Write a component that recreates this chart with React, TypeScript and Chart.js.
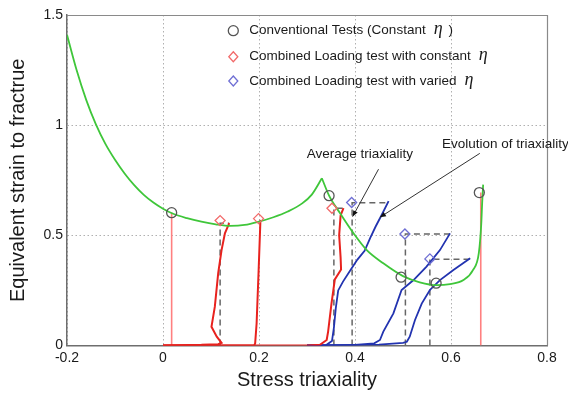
import React, { useEffect, useRef } from "react";
import { Chart, registerables } from "chart.js";

Chart.register(...registerables);

type P = [number, number];

const xTicks = [-0.2, 0, 0.2, 0.4, 0.6, 0.8];
const yTicks = [0, 0.5, 1, 1.5];

const xTitle = "Stress triaxiality";
const yTitle = "Equivalent strain to fractrue";

const legendTexts = [
  "Conventional Tests (Constant",
  "Combined Loading test with constant",
  "Combined Loading test with varied",
];

// fracture locus (green), split at the cusp
const greenLeft: P[] = [
  [-0.2, 1.41], [-0.18, 1.25], [-0.16, 1.115], [-0.14, 1.005], [-0.12, 0.915],
  [-0.1, 0.843], [-0.08, 0.781], [-0.06, 0.728], [-0.04, 0.684], [-0.02, 0.649],
  [0.0, 0.621], [0.02, 0.599], [0.05, 0.578], [0.08, 0.562], [0.11, 0.55],
  [0.14, 0.543], [0.17, 0.547], [0.2, 0.562], [0.23, 0.582], [0.26, 0.608],
  [0.29, 0.645], [0.31, 0.685], [0.331, 0.759],
];
const greenRight: P[] = [
  [0.331, 0.759], [0.346, 0.68], [0.369, 0.6], [0.397, 0.509], [0.424, 0.434],
  [0.459, 0.373], [0.5, 0.315], [0.535, 0.287], [0.57, 0.274], [0.598, 0.279],
  [0.626, 0.297], [0.646, 0.343], [0.658, 0.42], [0.663, 0.55], [0.665, 0.65],
  [0.667, 0.73],
];

// conventional tests: constant triaxiality paths
const convPath1: P[] = [[0.018, 0], [0.018, 0.603]];
const convPath2: P[] = [[0.662, 0], [0.662, 0.694]];

// combined loading, constant triaxiality (red)
const redPath1: P[] = [
  [0.0, 0.0], [0.08, 0.003], [0.115, 0.006], [0.122, 0.012], [0.112, 0.04],
  [0.101, 0.085], [0.108, 0.176], [0.115, 0.328], [0.122, 0.433], [0.129, 0.509],
  [0.138, 0.555],
];
const redPath2: P[] = [
  [0.0, 0.0], [0.19, 0.0], [0.192, 0.01], [0.195, 0.1], [0.199, 0.328], [0.203, 0.57],
];
const redPath3: P[] = [
  [0.0, 0.0], [0.3, 0.0], [0.327, 0.003], [0.341, 0.025], [0.344, 0.063], [0.351, 0.19],
  [0.358, 0.3], [0.371, 0.345], [0.37, 0.4], [0.367, 0.5], [0.37, 0.59], [0.376, 0.623],
];

// combined loading, varied triaxiality (blue)
const bluePath1: P[] = [
  [0.3, 0.0], [0.34, 0.002], [0.352, 0.02], [0.356, 0.08], [0.36, 0.17], [0.365, 0.25],
  [0.375, 0.29], [0.39, 0.34], [0.405, 0.39], [0.42, 0.43], [0.432, 0.49], [0.443, 0.54],
  [0.455, 0.59], [0.47, 0.655],
];
const bluePath2: P[] = [
  [0.3, 0.0], [0.4, 0.003], [0.44, 0.01], [0.452, 0.025], [0.459, 0.063], [0.48, 0.146],
  [0.497, 0.252], [0.522, 0.297], [0.549, 0.358], [0.577, 0.433], [0.598, 0.509],
];
const bluePath3: P[] = [
  [0.3, 0.0], [0.45, 0.004], [0.5, 0.012], [0.508, 0.017], [0.514, 0.04], [0.525, 0.116],
  [0.539, 0.19], [0.556, 0.252], [0.577, 0.297], [0.605, 0.343], [0.64, 0.396],
];

// average triaxiality guides (dashed)
const avg1: P[] = [[0.119, 0], [0.119, 0.555], [0.138, 0.555]];
const avg3: P[] = [[0.356, 0], [0.356, 0.623], [0.376, 0.623]];
const avg4: P[] = [[0.394, 0], [0.394, 0.648], [0.47, 0.648]];
const avg5: P[] = [[0.505, 0], [0.505, 0.506], [0.598, 0.506]];
const avg6: P[] = [[0.556, 0], [0.556, 0.392], [0.64, 0.392]];

// markers
const convPoints: P[] = [[0.018, 0.603], [0.346, 0.68], [0.496, 0.31], [0.569, 0.283], [0.659, 0.694]];
const redDiamonds: P[] = [[0.119, 0.567], [0.199, 0.576], [0.352, 0.623]];
const blueDiamonds: P[] = [[0.393, 0.649], [0.504, 0.506], [0.556, 0.393]];

// annotations: [textX, textY] and arrow [fromX, fromY, toX, toY] in data units
const avgLabel = "Average triaxiality";
const avgLabelPos: P = [0.41, 0.869];
const avgArrow = [0.449, 0.8, 0.395, 0.585];
const evoLabel = "Evolution of triaxiality";
const evoLabelPos: P = [0.581, 0.915];
const evoArrow = [0.66, 0.872, 0.452, 0.582];

const GREEN = "#3fc63a";
const RED = "#e8221e";
const LIGHTRED = "#ff8080";
const BLUE = "#2233b0";
const DASH = "#666666";
const CIRCLE = "#555555";
const RED_D = "#f26a6a";
const BLUE_D = "#6f6fd4";
const TEXT = "#1a1a1a";
const SANS = "'Liberation Sans', Arial, sans-serif";

const toXY = (pts: P[]) => pts.map(([x, y]) => ({ x, y }));

function lineDs(pts: P[], color: string, width: number, dash: number[] = [], smooth = false) {
  return {
    data: toXY(pts),
    showLine: true,
    borderColor: color,
    backgroundColor: color,
    borderWidth: width,
    borderDash: dash,
    pointRadius: 0,
    pointHoverRadius: 0,
    fill: false,
    tension: smooth ? 0.4 : 0,
    cubicInterpolationMode: smooth ? "monotone" : "default",
  };
}

function markerDs(pts: P[], style: string, color: string, r: number) {
  return {
    data: toXY(pts),
    showLine: false,
    pointStyle: style,
    pointRadius: r,
    pointBorderColor: color,
    pointBackgroundColor: "rgba(0,0,0,0)",
    pointBorderWidth: 1.3,
    borderColor: color,
    backgroundColor: "rgba(0,0,0,0)",
  };
}

function drawMarker(ctx: CanvasRenderingContext2D, kind: string, x: number, y: number, color: string) {
  ctx.save();
  ctx.strokeStyle = color;
  ctx.lineWidth = 1.3;
  ctx.beginPath();
  if (kind === "circle") {
    ctx.arc(x, y, 5, 0, Math.PI * 2);
  } else {
    ctx.moveTo(x, y - 5);
    ctx.lineTo(x + 4.5, y);
    ctx.lineTo(x, y + 5);
    ctx.lineTo(x - 4.5, y);
    ctx.closePath();
  }
  ctx.stroke();
  ctx.restore();
}

const decorPlugin = {
  id: "decor",
  beforeDraw(chart: any) {
    const ctx = chart.ctx;
    ctx.save();
    ctx.fillStyle = "#ffffff";
    ctx.fillRect(0, 0, chart.width, chart.height);
    ctx.restore();
  },
  afterDraw(chart: any) {
    const ctx: CanvasRenderingContext2D = chart.ctx;
    const { left, right, top, bottom } = chart.chartArea;
    const xs = chart.scales.x;
    const ys = chart.scales.y;
    ctx.save();
    // box top/right
    ctx.strokeStyle = "#8a8a8a";
    ctx.lineWidth = 1.2;
    ctx.beginPath();
    ctx.moveTo(left, top + 0.5);
    ctx.lineTo(right + 0.5, top + 0.5);
    ctx.lineTo(right + 0.5, bottom);
    ctx.stroke();

    // axis titles
    ctx.fillStyle = TEXT;
    ctx.font = `20px ${SANS}`;
    ctx.textAlign = "center";
    ctx.textBaseline = "middle";
    ctx.fillText(xTitle, (left + right) / 2, 380);
    ctx.save();
    ctx.translate(18, (top + bottom) / 2);
    ctx.rotate(-Math.PI / 2);
    ctx.fillText(yTitle, 0, 0);
    ctx.restore();

    // legend
    const kinds = ["circle", "diamond", "diamond"];
    const colors = [CIRCLE, RED_D, BLUE_D];
    const rowY = [30.7, 56.7, 81];
    const mx = 233.3;
    const tx = 249.3;
    legendTexts.forEach((t, i) => {
      const y = rowY[i];
      drawMarker(ctx, kinds[i], mx, y, colors[i]);
      ctx.font = `13.5px ${SANS}`;
      ctx.fillStyle = TEXT;
      ctx.textAlign = "left";
      ctx.textBaseline = "middle";
      ctx.fillText(t, tx, y);
      const w = ctx.measureText(t).width;
      ctx.font = "italic 18px 'Liberation Serif', 'DejaVu Serif', serif";
      const ex = tx + w + 8;
      ctx.fillText("\u03B7", ex, y - 1);
      if (i === 0) {
        const we = ctx.measureText("\u03B7").width;
        ctx.font = `13.5px ${SANS}`;
        ctx.fillText(")", ex + we + 6, y);
      }
    });

    // annotations
    const arrow = (a: number[]) => {
      const x1 = xs.getPixelForValue(a[0]);
      const y1 = ys.getPixelForValue(a[1]);
      const x2 = xs.getPixelForValue(a[2]);
      const y2 = ys.getPixelForValue(a[3]);
      ctx.strokeStyle = "#333333";
      ctx.fillStyle = "#111111";
      ctx.lineWidth = 1;
      ctx.beginPath();
      ctx.moveTo(x1, y1);
      ctx.lineTo(x2, y2);
      ctx.stroke();
      const ang = Math.atan2(y2 - y1, x2 - x1);
      const L = 6;
      const H = 2.5;
      ctx.beginPath();
      ctx.moveTo(x2, y2);
      ctx.lineTo(x2 - L * Math.cos(ang) + H * Math.sin(ang), y2 - L * Math.sin(ang) - H * Math.cos(ang));
      ctx.lineTo(x2 - L * Math.cos(ang) - H * Math.sin(ang), y2 - L * Math.sin(ang) + H * Math.cos(ang));
      ctx.closePath();
      ctx.fill();
    };
    arrow(avgArrow);
    arrow(evoArrow);
    ctx.font = `13.5px ${SANS}`;
    ctx.fillStyle = TEXT;
    ctx.textBaseline = "middle";
    ctx.textAlign = "center";
    ctx.fillText(avgLabel, xs.getPixelForValue(avgLabelPos[0]), ys.getPixelForValue(avgLabelPos[1]));
    ctx.textAlign = "left";
    ctx.fillText(evoLabel, xs.getPixelForValue(evoLabelPos[0]), ys.getPixelForValue(evoLabelPos[1]));
    ctx.restore();
  },
};

const fmt = (v: number) => String(Math.round(v * 10) / 10);

export default function App() {
  const ref = useRef<HTMLCanvasElement | null>(null);
  useEffect(() => {
    if (!ref.current) return;
    const datasets: any[] = [
      markerDs(convPoints, "circle", CIRCLE, 5),
      markerDs(redDiamonds, "rectRot", RED_D, 5),
      markerDs(blueDiamonds, "rectRot", BLUE_D, 5),
      lineDs(greenLeft, GREEN, 1.8, [], true),
      lineDs(greenRight, GREEN, 1.8, [], true),
      lineDs(redPath1, RED, 2),
      lineDs(redPath2, RED, 2),
      lineDs(redPath3, RED, 2),
      lineDs(bluePath1, BLUE, 1.8),
      lineDs(bluePath2, BLUE, 1.8),
      lineDs(bluePath3, BLUE, 1.8),
      lineDs(avg1, DASH, 1.5, [6, 4]),
      lineDs(avg3, DASH, 1.5, [6, 4]),
      lineDs(avg4, DASH, 1.5, [6, 4]),
      lineDs(avg5, DASH, 1.5, [6, 4]),
      lineDs(avg6, DASH, 1.5, [6, 4]),
      lineDs(convPath1, LIGHTRED, 1.6),
      lineDs(convPath2, LIGHTRED, 1.6),
    ];
    const chart = new Chart(ref.current, {
      type: "scatter",
      data: { datasets },
      plugins: [decorPlugin],
      options: {
        animation: false,
        responsive: false,
        events: [],
        layout: { padding: { left: 0, top: 15, right: 21, bottom: 0 } },
        plugins: { legend: { display: false }, tooltip: { enabled: false } },
        scales: {
          x: {
            type: "linear",
            min: -0.2,
            max: 0.8,
            afterBuildTicks: (s: any) => {
              s.ticks = xTicks.map((v) => ({ value: v }));
            },
            afterFit: (s: any) => {
              s.height = 48.5;
            },
            ticks: {
              callback: (v: any) => fmt(Number(v)),
              font: { family: SANS, size: 14 },
              color: TEXT,
              padding: 4,
              maxRotation: 0,
            },
            grid: { color: "#b0b0b0", lineWidth: 1, drawTicks: false },
            border: { display: true, color: "#6e6e6e", width: 1.5, dash: [1.5, 2.5] },
          },
          y: {
            type: "linear",
            min: 0,
            max: 1.5,
            afterBuildTicks: (s: any) => {
              s.ticks = yTicks.map((v) => ({ value: v }));
            },
            afterFit: (s: any) => {
              s.width = 67;
            },
            ticks: {
              callback: (v: any) => fmt(Number(v)),
              font: { family: SANS, size: 14 },
              color: TEXT,
              padding: 4,
            },
            grid: { color: "#b0b0b0", lineWidth: 1, drawTicks: false },
            border: { display: true, color: "#6e6e6e", width: 1.5, dash: [1.5, 2.5] },
          },
        },
      } as any,
    });
    return () => chart.destroy();
  }, []);
  return (
    <div style={{ position: "fixed", left: 0, top: 0, width: 568, height: 394, background: "#fff" }}>
      <canvas ref={ref} width={568} height={394} style={{ display: "block" }} />
    </div>
  );
}
